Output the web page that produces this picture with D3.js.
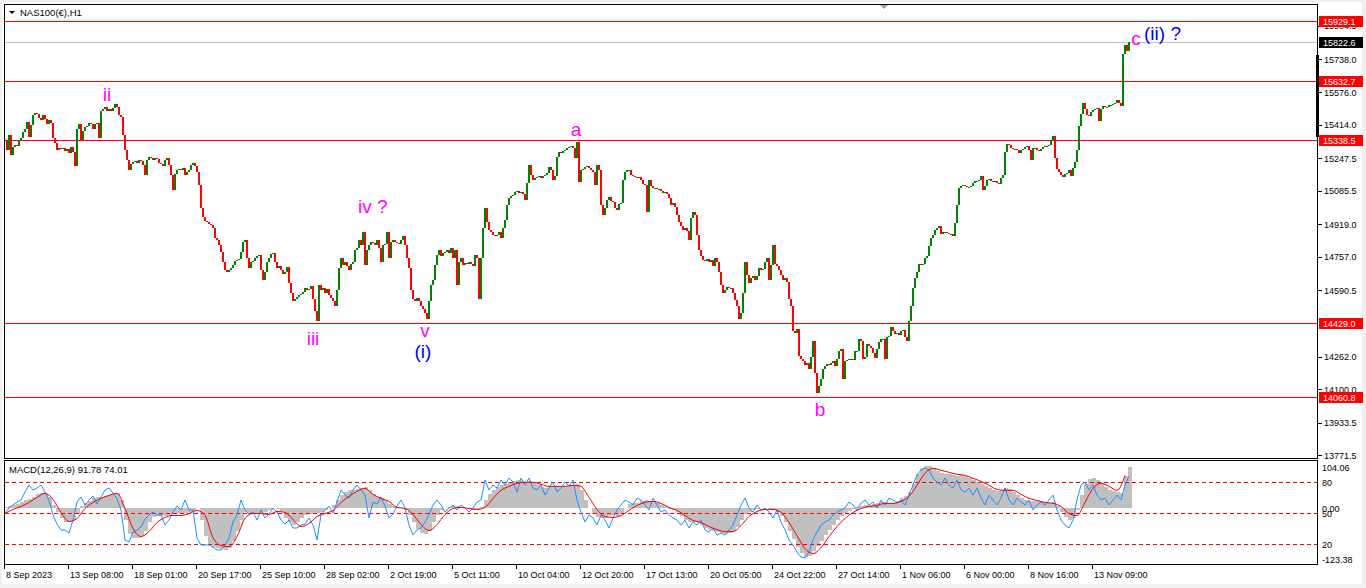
<!DOCTYPE html>
<html><head><meta charset="utf-8">
<script src="https://cdn.jsdelivr.net/npm/d3@7"></script>
<style>html,body{margin:0;padding:0;background:#fff;overflow:hidden}</style>
</head><body><svg id="c" width="1366" height="588"></svg>
<script>
// ---------------- DATA ----------------
const symbolTitle = "NAS100(€),H1";
const macdTitle = "MACD(12,26,9) 91.78 74.01";
// H1 closes, one per bar (2 screen px per bar)
const closes = [
15340,15290,15365,15265,15305,15315,15310,15335,15350,15380,
15390,15425,15355,15410,15460,15470,15465,15445,15435,15460,
15440,15415,15435,15420,15350,15325,15290,15300,15295,15300,
15285,15295,15275,15305,15280,15210,15390,15415,15340,15385,
15400,15405,15420,15415,15390,15415,15420,15350,15480,15490,
15500,15480,15490,15480,15495,15515,15500,15460,15450,15365,
15290,15240,15190,15220,15230,15235,15225,15240,15235,15215,
15165,15240,15255,15250,15240,15250,15245,15225,15220,15210,
15240,15250,15215,15165,15090,15170,15190,15195,15190,15200,
15165,15180,15190,15215,15225,15210,15180,15115,15000,14955,
14935,14930,14920,14915,14900,14850,14840,14815,14780,14730,
14690,14680,14690,14700,14715,14735,14740,14745,14780,14830,
14840,14750,14700,14730,14735,14750,14760,14765,14690,14640,
14680,14730,14750,14770,14775,14730,14700,14710,14690,14670,
14680,14705,14625,14580,14540,14550,14560,14570,14575,14585,
14600,14590,14595,14610,14550,14490,14440,14615,14590,14600,
14580,14595,14570,14555,14540,14515,14590,14700,14750,14715,
14730,14710,14690,14720,14730,14790,14800,14840,14815,14880,
14715,14790,14815,14830,14825,14815,14840,14800,14730,14815,
14820,14880,14750,14830,14840,14830,14825,14820,14840,14860,
14815,14750,14700,14590,14550,14540,14555,14540,14515,14500,
14480,14450,14540,14615,14640,14715,14765,14790,14760,14775,
14780,14790,14775,14800,14750,14790,14615,14730,14750,14715,
14725,14720,14730,14720,14710,14765,14750,14550,14750,14900,
15000,14930,14890,14880,14865,14860,14865,14880,14850,14900,
14940,15015,15050,15060,15065,15080,15085,15075,15080,15070,
15040,15125,15215,15165,15140,15150,15155,15160,15150,15160,
15165,15175,15205,15190,15140,15160,15255,15280,15275,15285,
15290,15300,15305,15310,15300,15250,15330,15130,15190,15195,
15205,15210,15200,15190,15180,15115,15215,15190,15015,14965,
15000,15040,15055,15035,15030,15000,14990,15020,15025,15140,
15180,15190,15190,15165,15160,15155,15150,15155,15140,15120,
15115,14980,15140,15110,15100,15100,15095,15095,15085,15075,
15080,15070,15050,15015,15025,15005,14965,14930,14910,14890,
14900,14885,14840,14950,14980,14965,14865,14790,14760,14740,
14735,14745,14730,14740,14710,14750,14730,14680,14615,14580,
14590,14605,14600,14600,14580,14545,14515,14450,14480,14580,
14730,14665,14625,14650,14660,14640,14660,14700,14690,14695,
14730,14750,14640,14715,14815,14720,14710,14690,14665,14640,
14650,14630,14550,14515,14390,14380,14400,14265,14250,14240,
14220,14230,14200,14260,14340,14180,14080,14115,14150,14200,
14215,14225,14220,14230,14240,14215,14250,14290,14300,14150,
14240,14245,14250,14250,14245,14290,14290,14350,14340,14250,
14260,14325,14315,14305,14280,14255,14300,14335,14350,14350,
14250,14360,14365,14410,14390,14375,14380,14370,14390,14395,
14360,14340,14440,14515,14600,14650,14680,14720,14715,14720,
14750,14760,14810,14850,14865,14890,14900,14910,14870,14880,
14880,14875,14870,14870,14860,14925,15015,15100,15110,15115,
15110,15105,15105,15110,15125,15135,15135,15140,15160,15090,
15110,15140,15145,15135,15130,15135,15125,15120,15150,15165,
15280,15320,15315,15300,15295,15295,15290,15275,15290,15295,
15305,15310,15290,15240,15300,15300,15290,15285,15295,15305,
15310,15310,15315,15340,15360,15250,15195,15180,15165,15155,
15170,15175,15190,15160,15200,15230,15290,15405,15465,15520,
15490,15460,15455,15475,15485,15490,15495,15430,15490,15505,
15500,15500,15510,15510,15515,15520,15535,15520,15505,15765,
15810,15780,15822.6
];
const priceTicks = [15904.5,15738.0,15576.0,15414.0,15247.5,15085.5,14919.0,14757.0,14590.5,14262.0,14100.0,13933.5,13771.5];
const levelLines = [15929.1,15632.7,15338.5,14429.0,14060.8];
const bidPrice = 15822.6;
const timeLabels = ["8 Sep 2023","13 Sep 08:00","18 Sep 01:00","20 Sep 17:00","25 Sep 10:00","28 Sep 02:00","2 Oct 19:00","5 Oct 11:00","10 Oct 04:00","12 Oct 20:00","17 Oct 13:00","20 Oct 05:00","24 Oct 22:00","27 Oct 14:00","1 Nov 06:00","6 Nov 00:00","8 Nov 16:00","13 Nov 09:00"];
const barsPerTimeLabel = 32;
// MACD main (histogram), one value per 2 bars
const macdMain = [
2.3,4.5,6.8,9,13.5,18,20.3,24.8,31.5,33.8,
31.5,24.8,6.8,-9,-22.5,-29.3,-31.5,-27,-13.5,4.5,
11.3,15.8,22.5,24.8,24.8,27,29.3,31.5,33.8,18,
-27,-56.3,-65.3,-65.3,-60.8,-49.5,-31.5,-20.3,-18,-18,
-18,-15.8,-13.5,-11.3,-11.3,-11.3,-9,-6.8,0,-27,
-60.8,-78.8,-85.5,-87.8,-90,-92.3,-87.8,-72,-49.5,-27,
-9,-11.3,-11.3,-13.5,-11.3,-9,-4.5,0,-2.3,-9,
-22.5,-31.5,-36,-31.5,-22.5,-15.8,-13.5,-13.5,-11.3,-9,
-4.5,0,6.8,18,29.3,36,40.5,40.5,42.8,45,
47.3,40.5,31.5,24.8,22.5,18,9,4.5,2.3,0,
-4.5,-15.8,-31.5,-45,-54,-56.3,-49.5,-31.5,-15.8,-4.5,
0,2.3,4.5,4.5,2.3,0,-2.3,-4.5,-2.3,2.3,
18,31.5,40.5,47.3,51.8,54,58.5,60.8,63,60.8,
58.5,60.8,56.3,51.8,47.3,45,47.3,49.5,49.5,47.3,
49.5,51.8,51.8,54,40.5,18,0,-13.5,-20.3,-22.5,
-22.5,-18,-15.8,-18,-13.5,0,9,11.3,11.3,15.8,
18,15.8,13.5,11.3,6.8,2.3,-2.3,-4.5,-9,-18,
-24.8,-29.3,-31.5,-31.5,-36,-42.8,-47.3,-49.5,-51.8,-54,
-56.3,-54,-49.5,-40.5,-27,-13.5,-9,-4.5,-2.3,0,
0,-2.3,-4.5,-9,-18,-31.5,-49.5,-67.5,-85.5,-99,
-108,-105.8,-94.5,-83.3,-72,-58.5,-47.3,-36,-27,-18,
-11.3,-6.8,-2.3,2.3,4.5,6.8,6.8,9,11.3,13.5,
13.5,11.3,11.3,15.8,22.5,27,36,54,76.5,90,
94.5,94.5,90,83.3,78.8,76.5,76.5,74.3,72,74.3,
72,67.5,63,58.5,54,49.5,45,40.5,38.3,40.5,
45,42.8,36,29.3,22.5,18,15.8,15.8,15.8,13.5,
11.3,11.3,13.5,4.5,-9,-20.3,-24.8,-22.5,-4.5,29.3,
54,65.3,67.5,63,54,47.3,40.5,38.3,36,33.8,
72,91.78
];
// MACD signal, one value per 4 bars
const macdSignal = [
-11.3,-2.3,4.5,13.5,24.8,33.8,20.3,-9,-29.3,-22.5,
0,13.5,22.5,29.3,33.8,0,-45,-63,-51.8,-31.5,
-20.3,-15.8,-15.8,-11.3,-4.5,-15.8,-65.3,-83.3,-85.5,-63,
-22.5,-11.3,-11.3,-13.5,-6.8,-9,-24.8,-40.5,-33.8,-18,
-11.3,-4.5,13.5,27,38.3,45,31.5,22.5,15.8,2.3,
0,-13.5,-36,-49.5,-36,-13.5,0,2.3,0,-2.3,
2.3,22.5,40.5,49.5,56.3,58.5,58.5,54,49.5,49.5,
49.5,51.8,49.5,24.8,-2.3,-18,-20.3,-15.8,-4.5,6.8,
13.5,15.8,11.3,2.3,-4.5,-15.8,-27,-31.5,-40.5,-47.3,
-51.8,-51.8,-38.3,-18,-6.8,-2.3,-2.3,-9,-31.5,-60.8,
-90,-101.3,-87.8,-63,-40.5,-22.5,-9,0,4.5,6.8,
11.3,11.3,15.8,27,51.8,78.8,90,85.5,81,76.5,
74.3,67.5,60.8,51.8,42.8,40.5,40.5,31.5,22.5,18,
13.5,11.3,4.5,-11.3,-15.8,13.5,45,56.3,49.5,40.5,
74.01
];
// oscillator (0-100 scale, levels 20/50/80), one value per 2 bars
const oscillator = [
50.3,55.2,58.1,61,62.9,70.6,77.4,72.6,74.5,77.4,
70.6,62.9,48.4,39.7,33.9,33.9,31,43.5,61,65.8,
58.1,62.9,66.8,59,65.8,72.6,74.5,69.7,63.9,53.2,
24.2,22.3,31.9,33.9,36.8,44.5,48.4,51.3,48.4,48.4,
38.7,43.5,51.3,57.1,53.2,62.9,53.2,53.2,26.1,19.4,
19.4,19.4,17.4,14.5,14.5,19.4,26.1,41.6,48.4,62.9,
53.2,49.4,51.3,43.5,53.2,45.5,49.4,55.2,51.3,43.5,
39.7,43.5,35.8,35.8,38.7,39.7,45.5,38.7,24.2,48.4,
53.2,57.1,50.3,61,72.6,67.7,64.8,72.6,77.4,72.6,
67.7,45.5,61,59,65.8,57.1,45.5,49.4,57.1,62.9,
55.2,38.7,29,33.9,35.8,41.6,48.4,58.1,62.9,58.1,
51.3,55.2,58.1,53.2,58.1,55.2,51.3,55.2,61,62.9,
82.3,72.6,77.4,74.5,82.3,77.4,84.2,80.3,70.6,84.2,
77.4,84.2,74.5,72.6,77.4,67.7,74.5,80.3,70.6,74.5,
80.3,76.4,82.3,62.9,51.3,41.6,48.4,45.5,38.7,48.4,
43.5,35.8,45.5,53.2,58.1,62.9,61,58.1,64.8,62.9,
58.1,53.2,64.8,58.1,51.3,53.2,48.4,45.5,43.5,38.7,
43.5,35.8,41.6,38.7,43.5,33.9,31.9,35.8,29,31,
29,33.9,38.7,48.4,58.1,64.8,55.2,51.3,58.1,53.2,
55.2,51.3,45.5,53.2,41.6,33.9,24.2,19.4,12.6,7.7,
6.8,12.6,24.2,31.9,38.7,41.6,43.5,48.4,51.3,53.2,
55.2,61,58.1,53.2,60,62.9,58.1,61,55.2,62.9,
58.1,64.8,62.9,60,62.9,58.1,67.7,77.4,87.1,91.9,
93.9,91.9,84.2,80.3,77.4,84.2,77.4,74.5,82.3,72.6,
70.6,74.5,67.7,74.5,64.8,58.1,67.7,62.9,58.1,64.8,
74.5,62.9,58.1,64.8,61,58.1,62.9,53.2,58.1,61,
58.1,62.9,67.7,53.2,43.5,38.7,35.8,43.5,62.9,77.4,
80.3,72.6,77.4,67.7,62.9,64.8,58.1,62.9,67.7,62.9,
77.4,86.1
];
const oscLevels = [80,50,20];
const macdRange = [-123.38,104.06];
// Elliott-wave annotations anchored at (bar index, price)
const waveText  = ["ii","iii","iv ?","v","(i)","a","b","c","(ii) ?"];
const waveBar   = [51.5,154.5,177,210.5,209.5,286,408,566,570];
const wavePrice = [15531.6,14321,14977,14361,14257,15360,13968,15810,15835];
const waveDegree= ["minor","minor","minor","minor","major","minor","minor","minor","major"];

// ---------------- DRAW ----------------
const FONT = "'Liberation Sans', Arial, sans-serif";
const svg = d3.select("#c");
svg.append("rect").attr("width",1366).attr("height",588).attr("fill","#f0f0f0");
svg.append("rect").attr("x",2).attr("y",2).attr("width",1360).attr("height",582).attr("fill","#fff");

const x = d3.scaleLinear().domain([0,563]).range([4,1130]);
const y = d3.scaleLinear().domain([14060.8,15929.1]).range([397,21]);
const my = d3.scaleLinear().domain(macdRange).range([563.5,462]);
const oy = d3.scaleLinear().domain([0,100]).range([565,461.7]);
const crisp = v => Math.round(v)+0.5;

const defs = svg.append("defs");
defs.append("clipPath").attr("id","cm").append("rect").attr("x",5).attr("y",5).attr("width",1312).attr("height",453);
defs.append("clipPath").attr("id","cs").append("rect").attr("x",5).attr("y",461).attr("width",1312).attr("height",103);

// ---- main panel
const main = svg.append("g").attr("clip-path","url(#cm)");
main.append("line").attr("x1",4).attr("x2",1318).attr("y1",crisp(y(bidPrice))).attr("y2",crisp(y(bidPrice)))
  .attr("stroke","#c0c0c0").attr("stroke-width",1);
main.selectAll("line.lvl").data(levelLines).join("line").attr("class","lvl")
  .attr("x1",4).attr("x2",1318).attr("y1",d=>crisp(y(d))).attr("y2",d=>crisp(y(d)))
  .attr("stroke","#ff0000").attr("stroke-width",1);

const openOf = i => i ? closes[i-1] : closes[i];
main.selectAll("rect.bar").data(closes).join("rect").attr("class","bar")
  .attr("x",(d,i)=>x(i)).attr("width",2)
  .attr("y",(d,i)=>Math.round(y(Math.max(openOf(i),d))))
  .attr("height",(d,i)=>Math.max(1,Math.round(y(Math.min(openOf(i),d)))-Math.round(y(Math.max(openOf(i),d)))))
  .attr("fill",(d,i)=> d<openOf(i) ? "#ff0000" : "#008000")
  .attr("shape-rendering","crispEdges");

main.selectAll("text.wave").data(waveText).join("text").attr("class","wave")
  .attr("x",(d,i)=>x(waveBar[i])).attr("y",(d,i)=>y(wavePrice[i]))
  .attr("text-anchor",d=> d.length>3 ? "start" : "middle")
  .attr("font-family",FONT).attr("font-size",19)
  .attr("fill",(d,i)=> waveDegree[i]==="major" ? "#0000ff" : "#ff00ff")
  .text(d=>d);

// title
svg.append("path").attr("d","M9,11 L15,11 L12,14 Z").attr("fill","#000");
svg.append("text").attr("x",20).attr("y",16).attr("font-family",FONT).attr("font-size",9.5).attr("fill","#000").text(symbolTitle);
// chart shift marker
svg.append("path").attr("d","M879,4 L889,4 L884,9 Z").attr("fill","#a0a0a0");

// ---- price axis
const pa = svg.append("g");
pa.selectAll("line").data(priceTicks).join("line")
  .attr("x1",1318).attr("x2",1322).attr("y1",d=>crisp(y(d))).attr("y2",d=>crisp(y(d))).attr("stroke","#000");
pa.selectAll("text").data(priceTicks).join("text")
  .attr("x",1324).attr("y",d=>y(d)+3.5).attr("font-family",FONT).attr("font-size",9).attr("fill","#000")
  .text(d=>d.toFixed(1));
const boxes = levelLines.map(v=>({v,bg:"#ff0000"})).concat([{v:bidPrice,bg:"#000000"}]);
const bx = svg.append("g").selectAll("g").data(boxes).join("g");
bx.append("rect").attr("x",1319).attr("y",d=>Math.round(y(d.v))-5).attr("width",44).attr("height",11).attr("fill",d=>d.bg);
bx.append("text").attr("x",1323).attr("y",d=>Math.round(y(d.v))+3.5).attr("font-family",FONT).attr("font-size",9)
  .attr("fill","#fff").text(d=>d.v.toFixed(1));
svg.append("rect").attr("x",1316).attr("y",55).attr("width",3).attr("height",82).attr("fill","#000");

// ---- MACD panel
const sub = svg.append("g").attr("clip-path","url(#cs)");
sub.selectAll("rect.h").data(macdMain).join("rect").attr("class","h")
  .attr("x",(d,j)=>x(2*j)).attr("width",4)
  .attr("y",d=>Math.round(my(Math.max(0,d))))
  .attr("height",d=>Math.max(0,Math.round(my(Math.min(0,d)))-Math.round(my(Math.max(0,d)))))
  .attr("fill","#c0c0c0").attr("shape-rendering","crispEdges");
sub.selectAll("line.ol").data(oscLevels).join("line").attr("class","ol")
  .attr("x1",5).attr("x2",1317).attr("y1",d=>crisp(oy(d))).attr("y2",d=>crisp(oy(d)))
  .attr("stroke","#ff0000").attr("stroke-dasharray","4,3");
sub.append("path").datum(oscillator)
  .attr("d",d3.line().x((d,j)=>x(2*j)+1).y(d=>oy(d)))
  .attr("fill","none").attr("stroke","#1e90ff").attr("stroke-width",1);
sub.append("path").datum(macdSignal)
  .attr("d",d3.line().curve(d3.curveMonotoneX).x((d,k)=>x(4*k)+1).y(d=>my(d)))
  .attr("fill","none").attr("stroke","#ff0000").attr("stroke-width",1);
svg.append("text").attr("x",9).attr("y",473).attr("font-family",FONT).attr("font-size",9.5).attr("fill","#000").text(macdTitle);

const sl = [
  {t:macdRange[1].toFixed(2), y:my(macdRange[1])+9},
  {t:String(oscLevels[0]), y:oy(oscLevels[0])+3.5},
  {t:(0).toFixed(2), y:my(0)+4},
  {t:String(oscLevels[1]), y:oy(oscLevels[1])+3.5},
  {t:String(oscLevels[2]), y:oy(oscLevels[2])+3.5},
  {t:macdRange[0].toFixed(2), y:my(macdRange[0])-0.5}
];
svg.append("g").selectAll("text").data(sl).join("text")
  .attr("x",1322).attr("y",d=>d.y).attr("font-family",FONT).attr("font-size",9).attr("fill","#000").text(d=>d.t);

// ---- frames
svg.append("rect").attr("x",4.5).attr("y",4.5).attr("width",1313).attr("height",454).attr("fill","none").attr("stroke","#000");
svg.append("rect").attr("x",4.5).attr("y",460.5).attr("width",1313).attr("height",104).attr("fill","none").attr("stroke","#000");

// ---- time axis
const ta = svg.append("g");
ta.selectAll("line").data(timeLabels).join("line")
  .attr("x1",(d,k)=>crisp(x(k*barsPerTimeLabel))).attr("x2",(d,k)=>crisp(x(k*barsPerTimeLabel)))
  .attr("y1",565).attr("y2",569).attr("stroke","#000");
ta.selectAll("text").data(timeLabels).join("text")
  .attr("x",(d,k)=>x(k*barsPerTimeLabel)+2).attr("y",578).attr("font-family",FONT).attr("font-size",9).attr("fill","#000")
  .text(d=>d);
</script></body></html>
